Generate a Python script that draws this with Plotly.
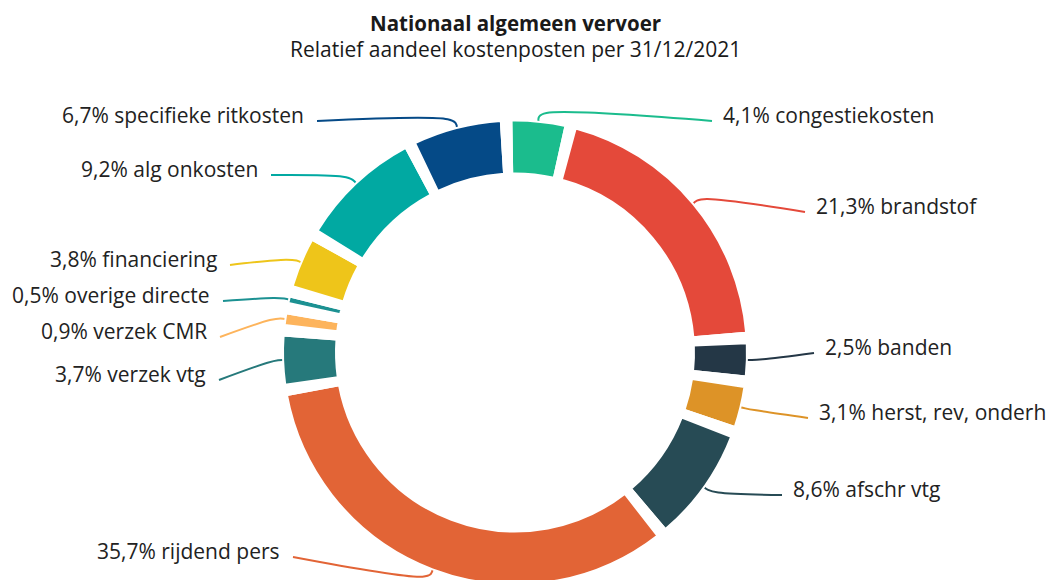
import numpy as np
import plotly.graph_objects as go

# ---------------- data ----------------
categories = ["congestiekosten", "brandstof", "banden", "herst, rev, onderh",
              "afschr vtg", "rijdend pers", "verzek vtg", "verzek CMR",
              "overige directe", "financiering", "alg onkosten",
              "specifieke ritkosten"]
shares = [4.1, 21.3, 2.5, 3.1, 8.6, 35.7, 3.7, 0.9, 0.5, 3.8, 9.2, 6.7]
colors = ["#1BBC8D", "#E4493A", "#243746", "#DD9327", "#274B55", "#E26436",
          "#26797B", "#FDB45C", "#1C9192", "#EEC51A", "#01A9A2", "#054A87"]

title = "Nationaal algemeen vervoer"
subtitle = "Relatief aandeel kostenposten per 31/12/2021"

# ---------------- layout constants (pixels) ----------------
W, H = 1049, 600
CX, CY = 515, 352.5          # donut centre
R_OUT, R_IN = 231, 180       # visible outer / inner radius
BORDER = 2                   # white slice border
PAD_DEG = 2.6                # angular pad between slices
GAP_CENTER_DEG = -2.2        # gap centre between last and first slice

# label anchor (x, y, side) for each category
label_x = [722, 815, 824, 818, 792, 281, 207, 208, 211, 218, 259, 305]
label_y = [115, 206, 347, 412, 489, 551, 374, 331, 295, 259, 169, 115]
label_side = ["left", "left", "left", "left", "left",
              "right", "right", "right", "right", "right", "right", "right"]

# ---------------- pie geometry ----------------
n = len(shares)
total = sum(shares)
deg_per_unit = (360 - n * PAD_DEG) / total
pad_value = PAD_DEG / deg_per_unit
start_deg = GAP_CENTER_DEG + PAD_DEG / 2

pie_values, pie_colors, pie_labels, pie_hover = [], [], [], []
for i, (c, v, col) in enumerate(zip(categories, shares, colors)):
    pie_values += [v, pad_value]
    pie_colors += [col, "rgba(255,255,255,0)"]
    pie_labels += [c, f"gap{i}"]
    pie_hover += [f"{c}: {str(v).replace('.', ',')}%<extra></extra>", "<extra></extra>"]

R_PIE = R_OUT + BORDER / 2
hole = (R_IN - BORDER / 2) / R_PIE

fig = go.Figure()
fig.add_trace(go.Pie(
    values=pie_values, labels=pie_labels, sort=False, direction="clockwise",
    rotation=start_deg, hole=hole, textinfo="none", showlegend=False,
    hovertemplate=pie_hover,
    marker=dict(colors=pie_colors, line=dict(color="white", width=BORDER)),
    domain=dict(x=[(CX - R_PIE) / W, (CX + R_PIE) / W],
                y=[(H - (CY + R_PIE)) / H, (H - (CY - R_PIE)) / H]),
))

# ---------------- leader lines & labels ----------------
cum = 0.0
annotations = []
for i, (c, v, col) in enumerate(zip(categories, shares, colors)):
    a0 = start_deg + cum * deg_per_unit + i * PAD_DEG
    a1 = a0 + v * deg_per_unit
    mid = np.radians((a0 + a1) / 2)
    cum += v
    u = np.array([np.sin(mid), -np.cos(mid)])
    c0 = np.array([CX, CY])
    p0 = c0 + R_OUT * u
    p1 = c0 + (R_OUT + 10) * u
    side = label_side[i]
    p2 = np.array([label_x[i] - 10 if side == "left" else label_x[i] + 12,
                   label_y[i] + 6])
    d = (p2 - p1) / np.linalg.norm(p2 - p1)
    pa = p0 + 6 * u
    pb = p1 + 7 * d
    pts = np.array([p0, pa, pb, p2])
    fig.add_trace(go.Scatter(
        x=pts[:, 0], y=pts[:, 1], mode="lines",
        line=dict(color=col, width=2, shape="spline", smoothing=1),
        hoverinfo="skip", showlegend=False))
    txt = f"{str(v).replace('.', ',')}% {c}"
    annotations.append(dict(
        x=label_x[i], y=label_y[i], xref="x", yref="y", text=txt,
        showarrow=False, xanchor=side, yanchor="middle", borderpad=0,
        font=dict(family="Open Sans", size=21, color="#222222")))

annotations.append(dict(x=CX, y=23, xref="x", yref="y", text=f"<b>{title}</b>",
                        showarrow=False, xanchor="center", yanchor="middle",
                        font=dict(family="Open Sans", size=20.5, color="#1a1a1a")))
annotations.append(dict(x=CX, y=49, xref="x", yref="y", text=subtitle,
                        showarrow=False, xanchor="center", yanchor="middle",
                        font=dict(family="Open Sans", size=21, color="#1a1a1a")))

fig.update_layout(
    width=W, height=H, margin=dict(l=0, r=0, t=0, b=0),
    paper_bgcolor="white", plot_bgcolor="rgba(0,0,0,0)",
    xaxis=dict(range=[0, W], visible=False, fixedrange=True),
    yaxis=dict(range=[H, 0], visible=False, fixedrange=True),
    annotations=annotations,
    font=dict(family="Open Sans"),
)

fig.write_html("out.html", config={"displayModeBar": False},
               post_script="document.body.style.margin='0px';")
